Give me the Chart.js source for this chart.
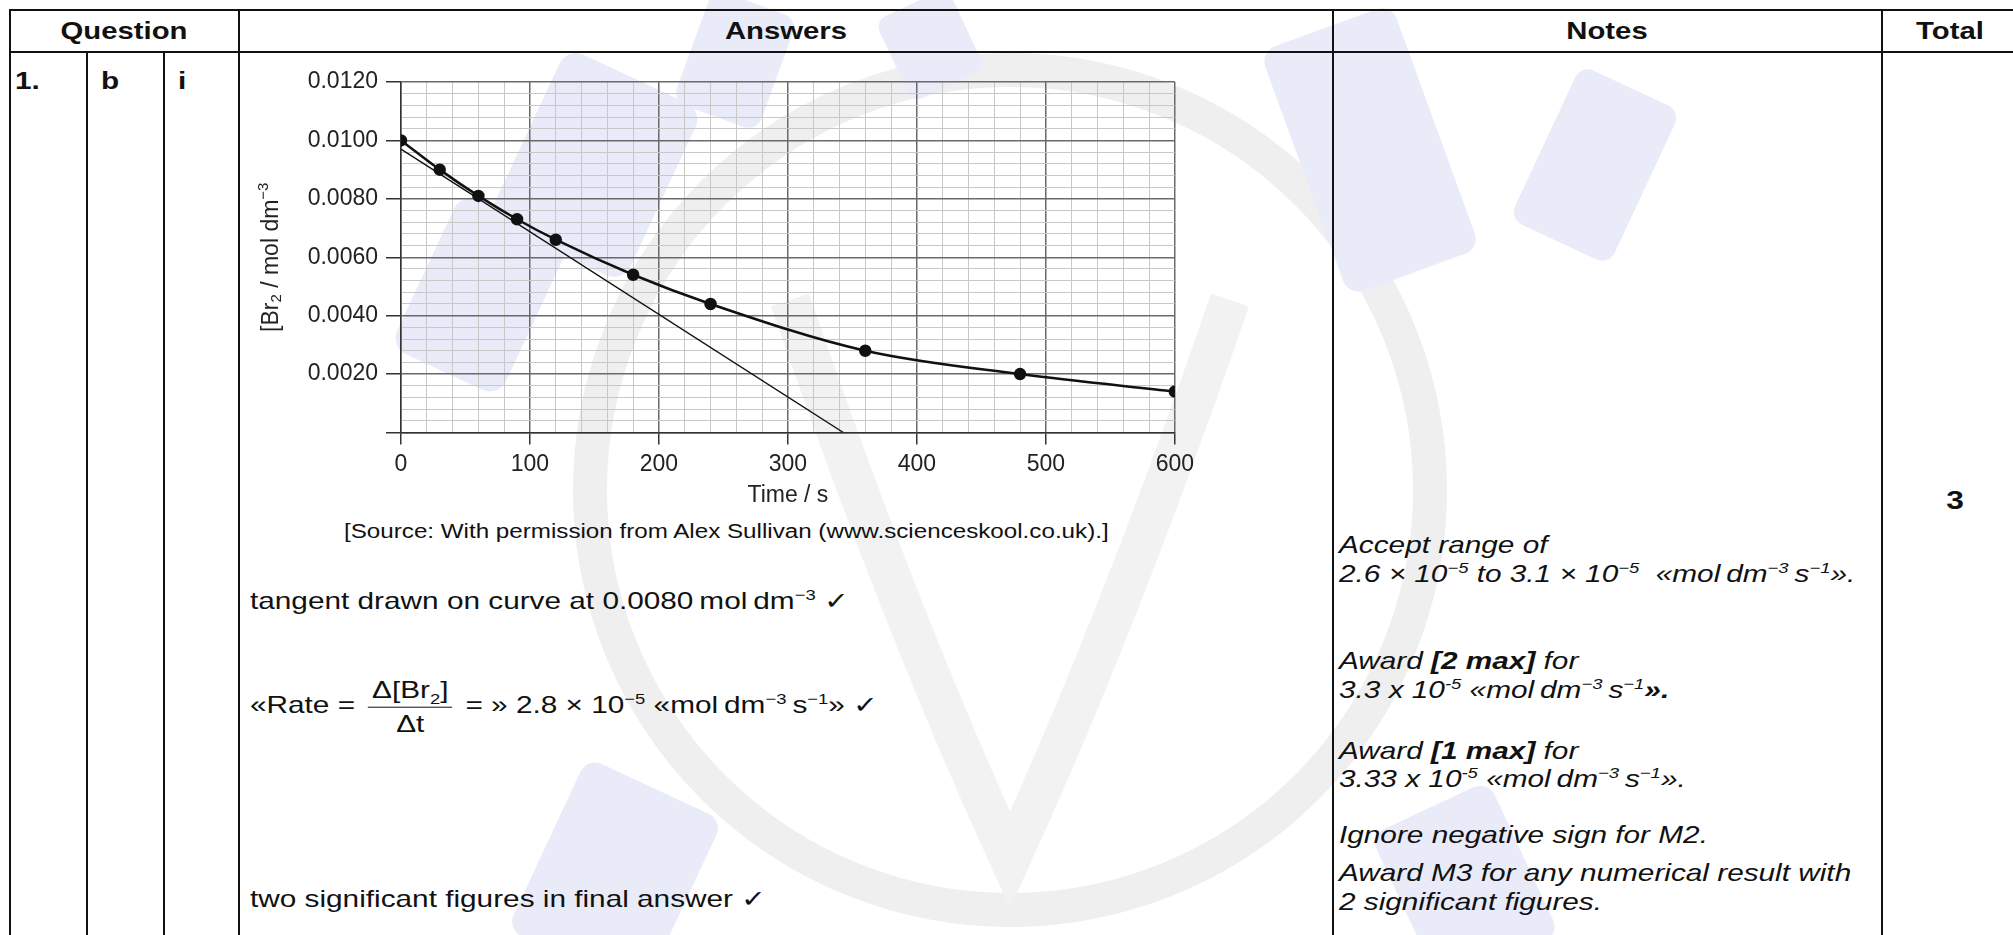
<!DOCTYPE html>
<html>
<head>
<meta charset="utf-8">
<script src="https://cdn.jsdelivr.net/npm/chart.js@4.4.0/dist/chart.umd.min.js"></script>
<style>
  body { margin: 0; background: #fff; width: 2013px; height: 935px; overflow: hidden; position: relative;
         font-family: 'Liberation Sans', Arial, Helvetica, sans-serif; color: #111; }
  .line { position: absolute; background: #111; }
  .t { position: absolute; white-space: nowrap; font-size: 24px; line-height: 1.2;
       transform: translateY(-50%) scaleX(1.24); transform-origin: left center; }
  .c { position: absolute; white-space: nowrap; font-size: 24px; line-height: 1.2; font-weight: bold;
       transform: translate(-50%, -50%) scaleX(1.22); transform-origin: center center; }
  .i { font-style: italic; }
  .b { font-weight: bold; }
  sup, sub { font-size: 62%; line-height: 0; }
  .frac { display: inline-block; vertical-align: middle; text-align: center; margin: 0 4px; }
  .frac span { display: block; }
  .frac .num { border-bottom: 1.5px solid #111; padding: 0 3px 2px; }
  .frac .den { padding-top: 2px; }
  #wm { position: absolute; left: 0; top: 0; }
  #chartBox { position: absolute; left: 240px; top: 60px; width: 960px; height: 460px; }
</style>
</head>
<body>
<svg id="wm" width="2013" height="935">
  <circle cx="1010" cy="490" r="420" fill="none" stroke="#efefef" stroke-width="34"/>
  <path d="M790 300 Q900 620 1010 860 Q1120 620 1230 300" fill="none" stroke="#f2f2f2" stroke-width="40"/>
  <g fill="#e9ebf9">
    <rect x="520" y="70" width="150" height="190" rx="18" transform="rotate(25 595 165)"/>
    <rect x="420" y="210" width="120" height="170" rx="18" transform="rotate(25 480 295)"/>
    <rect x="690" y="0" width="90" height="120" rx="14" transform="rotate(20 735 60)"/>
    <rect x="890" y="0" width="80" height="90" rx="12" transform="rotate(-25 930 45)"/>
    <rect x="1300" y="20" width="140" height="260" rx="16" transform="rotate(-20 1370 150)"/>
    <rect x="1540" y="80" width="110" height="170" rx="14" transform="rotate(25 1595 165)"/>
    <rect x="540" y="780" width="150" height="190" rx="16" transform="rotate(25 615 875)"/>
    <rect x="1400" y="800" width="130" height="170" rx="16" transform="rotate(-25 1465 885)"/>
  </g>
</svg>

<!-- table rules -->
<div class="line" style="left:9px;top:9px;width:2010px;height:2px"></div>
<div class="line" style="left:9px;top:51px;width:2010px;height:2px"></div>
<div class="line" style="left:9px;top:9px;width:2px;height:930px"></div>
<div class="line" style="left:86px;top:52px;width:1.5px;height:890px"></div>
<div class="line" style="left:163px;top:52px;width:1.5px;height:890px"></div>
<div class="line" style="left:238px;top:9px;width:2px;height:930px"></div>
<div class="line" style="left:1332px;top:9px;width:2px;height:930px"></div>
<div class="line" style="left:1881px;top:9px;width:2px;height:930px"></div>

<!-- header -->
<div class="c" style="left:124px;top:31px">Question</div>
<div class="c" style="left:786px;top:31px">Answers</div>
<div class="c" style="left:1607px;top:31px">Notes</div>
<div class="c" style="left:1950px;top:31px">Total</div>

<div class="t b" style="left:15px;top:81px">1.</div>
<div class="t b" style="left:101px;top:81px">b</div>
<div class="t b" style="left:178px;top:81px">i</div>

<div id="chartBox"><canvas id="myChart" width="960" height="460"></canvas></div>

<div class="t" style="left:344px;top:532px;font-size:19.5px">[Source: With permission from Alex Sullivan (www.scienceskool.co.uk).]</div>
<div class="t" style="left:250px;top:601px">tangent drawn on curve at 0.0080&#8201;mol&#8201;dm<sup>&minus;3</sup> &#10003;</div>
<div class="t" style="left:250px;top:707px">«Rate = <span class="frac"><span class="num">&Delta;[Br<sub>2</sub>]</span><span class="den">&Delta;t</span></span> = » 2.8 &times; 10<sup>&minus;5</sup> «mol&#8201;dm<sup>&minus;3</sup>&#8201;s<sup>&minus;1</sup>» &#10003;</div>
<div class="t" style="left:250px;top:899px">two significant figures in final answer &#10003;</div>

<div class="t i" style="left:1339px;top:545px">Accept range of</div>
<div class="t i" style="left:1339px;top:574px">2.6 &times; 10<sup>&minus;5</sup> to 3.1 &times; 10<sup>&minus;5</sup> &nbsp;«mol&#8201;dm<sup>&minus;3</sup>&#8201;s<sup>&minus;1</sup>».</div>
<div class="t i" style="left:1339px;top:661px">Award <span class="b">[2 max]</span> for</div>
<div class="t i" style="left:1339px;top:690px">3.3 x 10<sup>-5</sup> «mol&#8201;dm<sup>&minus;3</sup>&#8201;s<sup>&minus;1</sup><span class="b">».</span></div>
<div class="t i" style="left:1339px;top:751px">Award <span class="b">[1 max]</span> for</div>
<div class="t i" style="left:1339px;top:779px">3.33 x 10<sup>-5</sup> «mol&#8201;dm<sup>&minus;3</sup>&#8201;s<sup>&minus;1</sup>».</div>
<div class="t i" style="left:1339px;top:835px">Ignore negative sign for M2.</div>
<div class="t i" style="left:1339px;top:873px">Award M3 for any numerical result with</div>
<div class="t i" style="left:1339px;top:902px">2 significant figures.</div>

<div class="c" style="left:1955px;top:501px;font-size:26px">3</div>

<script>
const times = [0, 30, 60, 90, 120, 180, 240, 360, 480, 600];
const br2 = [0.0100, 0.0090, 0.0081, 0.0073, 0.0066, 0.0054, 0.0044, 0.0028, 0.0020, 0.0014];
const tangentTimes = [0, 343];
const tangentBr2 = [0.0097, 0];
const xMajor = 100;
const yStep = 0.0004;
// y title pieces: [text, 'n' normal | 'sub' | 'sup']
const yTitle = [['[Br', 'n'], ['2', 'sub'], [' / mol dm', 'n'], ['\u22123', 'sup']];

const font = "'Liberation Sans', Arial, Helvetica, sans-serif";
const isMajorX = v => Math.round(v) % xMajor === 0;
const isMajorY = v => Math.round(v / yStep) % 5 === 0;

const curve = times.map((t, i) => ({x: t, y: br2[i]}));
const tangent = tangentTimes.map((t, i) => ({x: t, y: tangentBr2[i]}));

// rotated y axis title with a real subscript / superscript
const yTitlePlugin = {
  id: 'yTitle',
  afterDraw(chart) {
    const c = chart.ctx;
    const area = chart.chartArea;
    const big = '23px ' + font, small = '15px ' + font;
    c.save();
    c.fillStyle = '#222';
    c.textBaseline = 'middle';
    c.textAlign = 'left';
    let w = 0;
    yTitle.forEach(p => { c.font = p[1] === 'n' ? big : small; w += c.measureText(p[0]).width; });
    c.translate(32, (area.top + area.bottom) / 2);
    c.rotate(-Math.PI / 2);
    let x = -w / 2;
    yTitle.forEach(p => {
      c.font = p[1] === 'n' ? big : small;
      const dy = p[1] === 'sub' ? 5 : p[1] === 'sup' ? -8 : 0;
      c.fillText(p[0], x, dy);
      x += c.measureText(p[0]).width;
    });
    c.restore();
  }
};

const ctx = document.getElementById('myChart').getContext('2d');
const myChart = new Chart(ctx, {
  type: 'scatter',
  data: {
    datasets: [{
      data: curve,
      showLine: true,
      cubicInterpolationMode: 'monotone',
      borderColor: '#111',
      backgroundColor: '#111',
      borderWidth: 2.5,
      pointRadius: 5
    }, {
      data: tangent,
      showLine: true,
      borderColor: '#111',
      borderWidth: 1.4,
      pointRadius: 0
    }]
  },
  plugins: [yTitlePlugin],
  options: {
    responsive: false,
    animation: false,
    layout: {padding: {top: 22, right: 22, bottom: 0, left: 0}},
    plugins: {legend: {display: false}, tooltip: {enabled: false}},
    scales: {
      x: {
        type: 'linear', min: 0, max: 600,
        afterFit: s => { s.height = 87.5; },
        ticks: {
          stepSize: 20, autoSkip: false, maxRotation: 0, padding: 6,
          color: '#222', font: {family: font, size: 23},
          callback: v => isMajorX(v) ? String(v) : ''
        },
        grid: {
          color: c => isMajorX(c.tick.value) ? '#6a6a6a' : '#c8c8c8',
          lineWidth: c => isMajorX(c.tick.value) ? 1.5 : 1,
          tickLength: 12,
          tickColor: c => isMajorX(c.tick.value) ? '#333' : 'rgba(0,0,0,0)'
        },
        border: {color: '#333', width: 1.5},
        title: {display: true, text: 'Time / s', color: '#222',
                font: {family: font, size: 23}, padding: {top: 0, bottom: 11}}
      },
      y: {
        min: 0, max: 0.012,
        afterFit: s => { s.width = 161; },
        ticks: {
          stepSize: yStep, autoSkip: false, padding: 8,
          color: '#222', font: {family: font, size: 23},
          callback: v => (isMajorY(v) && v > 0.0001) ? v.toFixed(4) : ''
        },
        grid: {
          color: c => isMajorY(c.tick.value) ? '#6a6a6a' : '#c8c8c8',
          lineWidth: c => isMajorY(c.tick.value) ? 1.5 : 1,
          tickLength: 15,
          tickColor: c => isMajorY(c.tick.value) ? '#333' : 'rgba(0,0,0,0)'
        },
        border: {color: '#333', width: 1.5}
      }
    }
  }
});
</script>
</body>
</html>
